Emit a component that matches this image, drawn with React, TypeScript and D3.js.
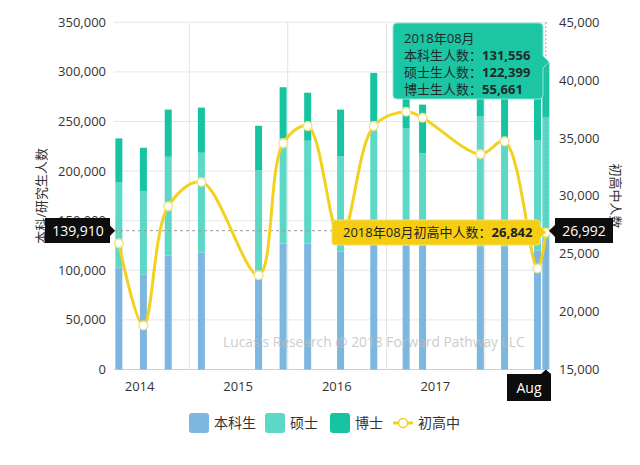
import React from 'react';
import * as d3 from 'd3';

// ---- data ----
const months = ['2014-04', '2014-07', '2014-10', '2015-02', '2015-09', '2015-12', '2016-03', '2016-07', '2016-11', '2017-03', '2017-05', '2017-12', '2018-03', '2018-07', '2018-08'];
const undergrad = [103000, 96000, 115000, 118000, 94000, 127000, 127000, 119000, 128000, 125000, 125000, 124000, 124000, 120000, 131556];
const master = [86000, 84000, 99500, 100500, 107000, 106000, 103600, 96000, 122000, 118000, 93000, 131000, 107000, 111000, 122399];
const phd = [44000, 43500, 47500, 45500, 44700, 51500, 48400, 47000, 49000, 50000, 49000, 50000, 52000, 55000, 55661];
const highSchool = [25900, 18800, 29100, 31200, 23150, 34540, 36030, 26300, 36030, 37270, 36750, 33610, 34710, 23730, 26842];
const yearLabels = ['2014', '2015', '2016', '2017'];
const leftTicks = [0, 50000, 100000, 150000, 200000, 250000, 300000, 350000];
const rightTicks = [15000, 20000, 25000, 30000, 35000, 40000, 45000];
const seriesNames = ['本科生', '硕士', '博士', '初高中'];
const colors = ['#7db6df', '#5cd8c6', '#17c4a2', '#f2d21e'];
const pointerLeft = 139910;
const pointerRight = 26992;

const FONT = "'Open Sans', 'Noto Sans CJK SC', sans-serif";

const parse = (s: string) => {
  const [y, m] = s.split('-').map(Number);
  return new Date(y, m - 1, 15);
};

export default function App() {
  const W = 640, H = 465;
  const left = 114, right = 548, top = 22.3, bottom = 369.5;
  const x = d3.scaleTime().domain([new Date(2014, 2, 28), new Date(2018, 7, 23)]).range([left, right]);
  const yL = d3.scaleLinear().domain([0, 350000]).range([bottom, top]);
  const yR = d3.scaleLinear().domain([15000, 45000]).range([bottom, top]);
  const fmt = d3.format(',');
  const barW = 7;

  const rows = months.map((m, i) => ({ date: parse(m), u: undergrad[i], ms: master[i], p: phd[i], h: highSchool[i] }));
  const stack = d3.stack<any>().keys(['u', 'ms', 'p'])(rows as any);

  const line = d3.line<any>().x(d => x(d.date)).y(d => yR(d.h)).curve(d3.curveCatmullRom.alpha(0.5));

  const yearLines = d3.timeYear.range(new Date(2014, 2, 28), new Date(2018, 7, 23));
  const last = rows[rows.length - 1];
  const px = x(last.date);
  const py = yL(pointerLeft);

  return (
    <div style={{ position: 'fixed', left: 0, top: 0 }}>
      <svg width={W} height={H} style={{ display: 'block', background: '#fff', fontFamily: FONT }}>
        {/* grid */}
        {leftTicks.map(t => (
          <line key={'g' + t} x1={left} x2={right} y1={yL(t)} y2={yL(t)} stroke="#e6e6e6" strokeWidth={1} />
        ))}
        {yearLines.map((d, i) => (
          <line key={'v' + i} x1={x(d)} x2={x(d)} y1={top} y2={bottom} stroke="#e2e2e2" strokeWidth={1} />
        ))}
        <line x1={left} x2={right} y1={bottom} y2={bottom} stroke="#cfcfcf" strokeWidth={1} />

        {/* axis labels */}
        {leftTicks.map(t => (
          <text key={'lt' + t} x={106} y={yL(t)} dy="0.35em" textAnchor="end" fontSize={13} fill="#333">{fmt(t)}</text>
        ))}
        {rightTicks.map(t => (
          <text key={'rt' + t} x={559} y={yR(t)} dy="0.35em" textAnchor="start" fontSize={13} fill="#333">{fmt(t)}</text>
        ))}
        {yearLabels.map(y => (
          <text key={'yl' + y} x={x(new Date(+y, 6, 1))} y={391} textAnchor="middle" fontSize={13} fill="#333">{y}</text>
        ))}
        <text transform={`translate(46,${(top + bottom) / 2}) rotate(-90)`} textAnchor="middle" fontSize={13} fill="#333">本科/研究生人数</text>
        <text transform={`translate(611,${(top + bottom) / 2}) rotate(90)`} textAnchor="middle" fontSize={13} fill="#333">初高中人数</text>

        {/* bars */}
        {stack.map((s, si) => (
          <g key={'s' + si} fill={colors[si]}>
            {s.map((d: any, i: number) => (
              <rect key={i} x={x(rows[i].date) - barW / 2} width={barW} y={yL(d[1])} height={yL(d[0]) - yL(d[1])} />
            ))}
          </g>
        ))}

        {/* watermark */}
        <text x={223} y={347} fontSize={13.8} fill="#bdbdbd" fillOpacity={0.8}>Lucas's Research @ 2018 Forward Pathway LLC</text>

        {/* pointers */}
        <line x1={left} x2={right} y1={py} y2={py} stroke="#9a9a9a" strokeDasharray="3,3" strokeWidth={1} />
        <line x1={px} x2={px} y1={top} y2={bottom} stroke="#9a9a9a" strokeDasharray="2,2" strokeWidth={1} />

        {/* line */}
        <path d={line(rows) || ''} fill="none" stroke={colors[3]} strokeWidth={3} />
        {rows.map((d, i) => (
          <circle key={'c' + i} cx={x(d.date)} cy={yR(d.h)} r={4.3} fill="#fff" stroke="#f0e58a" strokeWidth={1.5} />
        ))}

        {/* pointer labels */}
        <path d={`M45,218 H110 V225.5 L115,${py} L110,236 V243 H45 Z`} fill="#0d0d0d" />
        <text x={78} y={231} dy="0.35em" textAnchor="middle" fontSize={14} fill="#fff">{fmt(pointerLeft)}</text>
        <path d={`M555,218 H613 V243 H555 V237 L549,${yR(pointerRight)} L555,225 Z`} fill="#0d0d0d" />
        <text x={584} y={231} dy="0.35em" textAnchor="middle" fontSize={14} fill="#fff">{fmt(pointerRight)}</text>
        <path d={`M507,374 H541 L${px},369.5 L551,374 V401 H507 Z`} fill="#0d0d0d" />
        <text x={529} y={388} dy="0.35em" textAnchor="middle" fontSize={14} fill="#fff">Aug</text>

        {/* line tooltip */}
        <path d={`M335,220 H537 Q540,220 540,223 V226 L546,${yR(last.h)} L540,238 V242 Q540,245 537,245 H335 Q332,245 332,242 V223 Q332,220 335,220 Z`} fill="#f5ce12" stroke="#f8de6a" strokeWidth={1} />
        <text x={343} y={232.5} dy="0.35em" fontSize={13} fill="#222">
          2018年08月初高中人数：<tspan fontWeight="bold">{fmt(last.h)}</tspan>
        </text>

        {/* bar tooltip */}
        <path d={`M397,23 H539 Q543,23 543,27 V56 L549,62 L543,68 V95 Q543,99 539,99 H397 Q393,99 393,95 V27 Q393,23 397,23 Z`} fill="#1cc5a4" stroke="#8ae6d3" strokeWidth={1} />
        <text x={404} y={38} dy="0.35em" fontSize={13} fill="#1e2b2a">2018年08月</text>
        <text x={404} y={55} dy="0.35em" fontSize={13} fill="#1e2b2a">本科生人数：<tspan fontWeight="bold">{fmt(last.u)}</tspan></text>
        <text x={404} y={72} dy="0.35em" fontSize={13} fill="#1e2b2a">硕士生人数：<tspan fontWeight="bold">{fmt(last.ms)}</tspan></text>
        <text x={404} y={89} dy="0.35em" fontSize={13} fill="#1e2b2a">博士生人数：<tspan fontWeight="bold">{fmt(last.p)}</tspan></text>

        {/* legend */}
        {[0, 1, 2].map(i => {
          const lx = [189, 265, 330][i];
          return (
            <g key={'lg' + i}>
              <rect x={lx} y={413} width={20} height={20} rx={3} fill={colors[i]} />
              <text x={lx + 25} y={423} dy="0.35em" fontSize={14} fill="#333">{seriesNames[i]}</text>
            </g>
          );
        })}
        <line x1={393} x2={413} y1={423} y2={423} stroke={colors[3]} strokeWidth={3} />
        <circle cx={403} cy={423} r={4.5} fill="#fff" stroke={colors[3]} strokeWidth={1.5} />
        <text x={418} y={423} dy="0.35em" fontSize={14} fill="#333">{seriesNames[3]}</text>
      </svg>
    </div>
  );
}
